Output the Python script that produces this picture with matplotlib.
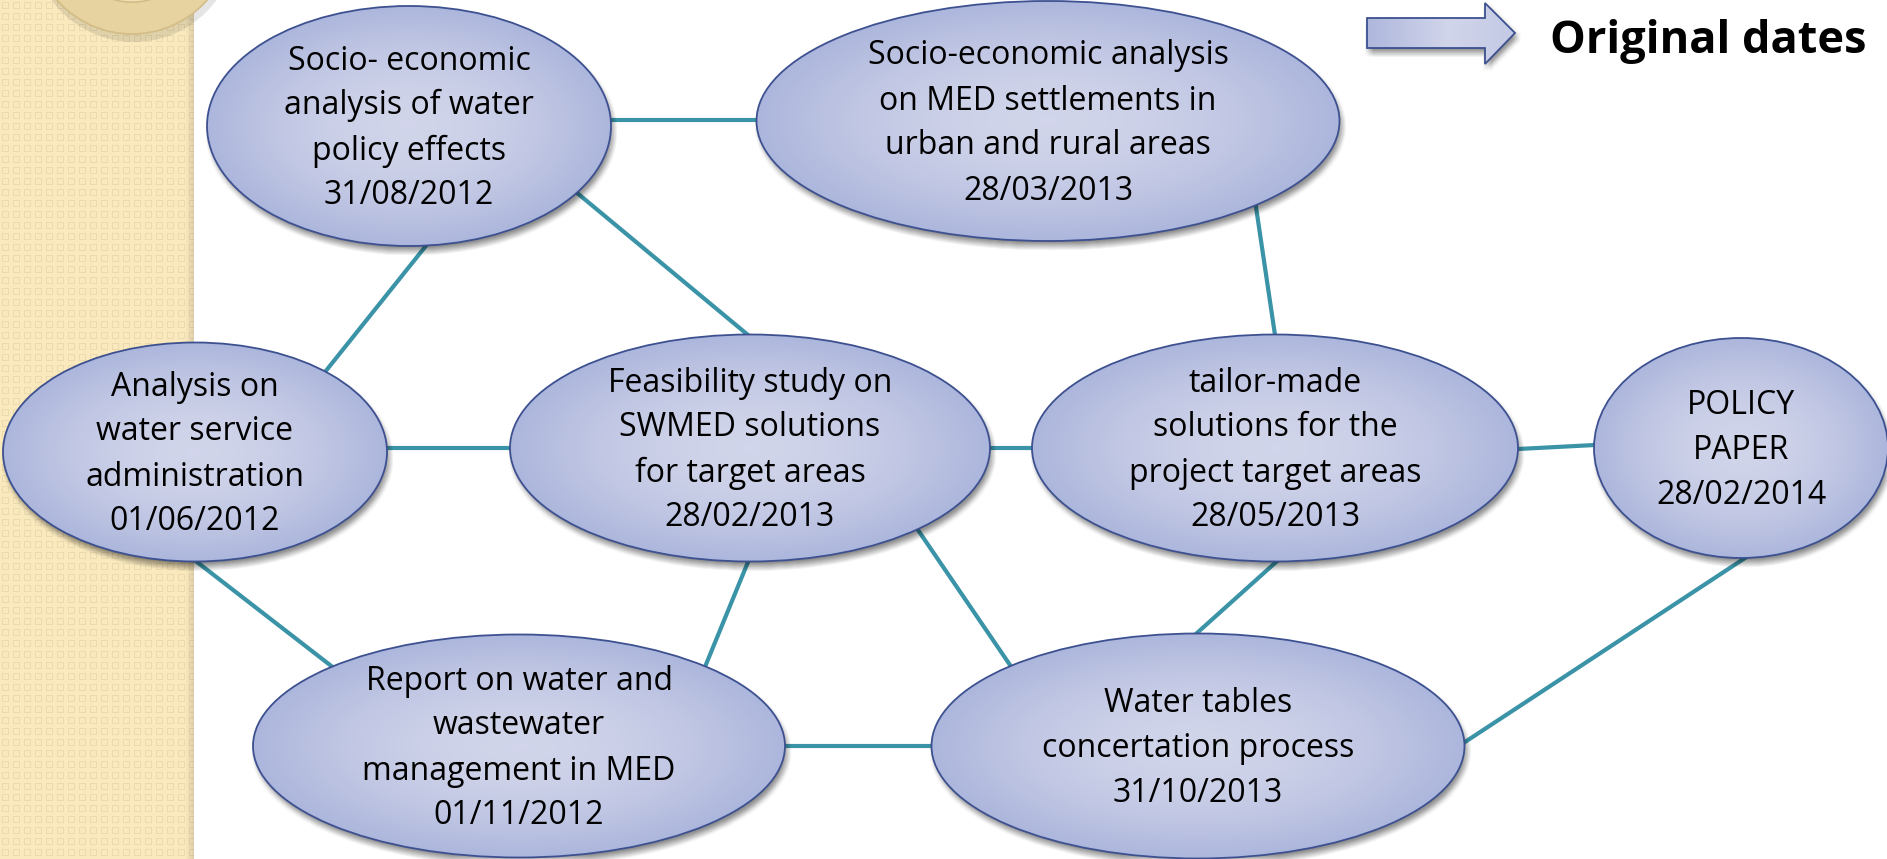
import numpy as np
import matplotlib
matplotlib.use("Agg")
from matplotlib import pyplot as plt
from matplotlib.patches import Ellipse, Polygon, Wedge, Rectangle
from matplotlib.path import Path

W, H = 1887, 859

# bubble texts
node_text = [
    "Socio- economic\nanalysis of water\npolicy effects\n31/08/2012",
    "Socio-economic analysis\non MED settlements in\nurban and rural areas\n28/03/2013",
    "Analysis on\nwater service\nadministration\n01/06/2012",
    "Feasibility study on\nSWMED solutions\nfor target areas\n28/02/2013",
    "tailor-made\nsolutions for the\nproject target areas\n28/05/2013",
    "POLICY\nPAPER\n28/02/2014",
    "Report on water and\nwastewater\nmanagement in MED\n01/11/2012",
    "Water tables\nconcertation process\n31/10/2013",
]
node_cx = [409, 1048, 195, 750, 1275, 1741, 519, 1198]
node_cy = [126, 121, 452, 448, 448, 448, 746, 746]
node_w = [404, 583, 384, 480, 486, 294, 532, 533]
node_h = [240, 240, 219, 227, 227, 220, 223, 225]

# connectors between bubbles (x0, y0, x1, y1), ends sit on the bubble rims
links = [
    (611, 120, 762, 120),
    (433, 237, 329, 367),
    (594, 207, 748, 335),
    (1256, 207, 1275, 335),
    (387, 448, 510, 448),
    (990, 448, 1032, 448),
    (1518, 449, 1595, 445),
    (197, 562, 330, 665),
    (748, 562, 707, 662),
    (918, 530, 1010, 665),
    (1275, 563, 1197, 633),
    (785, 746, 932, 746),
    (1742, 560, 1465, 742),
]

legend_label = "Original dates"
arrow_pts = [(1367, 18), (1485, 18), (1485, 3), (1515, 33),
             (1485, 64), (1485, 48), (1367, 48)]

FONT = "Open Sans"
LINE_COL = "#3a93a6"
EDGE_COL = "#3d5190"
C_IN = np.array([0.820, 0.835, 0.918])
C_OUT = np.array([0.675, 0.712, 0.862])


def blur(a, r):
    k = np.ones(2 * r + 1) / (2 * r + 1)
    a = np.apply_along_axis(lambda v: np.convolve(v, k, mode="same"), 0, a)
    a = np.apply_along_axis(lambda v: np.convolve(v, k, mode="same"), 1, a)
    return a


fig = plt.figure(figsize=(W / 100, H / 100), dpi=100)
ax = fig.add_axes([0, 0, 1, 1])
ax.set_xlim(0, W)
ax.set_ylim(H, 0)
ax.axis("off")

# left decorative strip
sw = 194
yy, xx = np.mgrid[0:H, 0:sw]
strip = np.ones((H, sw, 3)) * np.array([0.980, 0.914, 0.745])
px, py = xx % 11, yy % 11
motif = (((px == 2) | (px == 8)) & (py >= 2) & (py <= 8)) | (((py == 2) | (py == 8)) & (px >= 2) & (px <= 8))
strip[motif] = np.array([0.925, 0.855, 0.690])
shade = np.clip((xx - (sw - 9)) / 9.0, 0, 1)[..., None]
strip = strip * (1 - 0.12 * shade)
ax.imshow(strip, extent=(0, sw, H, 0), origin="upper", zorder=0, interpolation="nearest")
clip_rect = Rectangle((0, 0), sw, H, transform=ax.transData)
ring_sh = Wedge((134, -60), 102, 0, 360, width=34, facecolor="#000000", alpha=0.10,
                edgecolor="none", zorder=0.5)
ring_sh.set_clip_path(clip_rect)
ax.add_patch(ring_sh)
ring = Wedge((132, -66), 100, 0, 360, width=32, facecolor="#e6d3a0",
             edgecolor="#d3bc86", lw=1.2, zorder=0.6)
ring.set_clip_path(clip_rect)
ax.add_patch(ring)
inner = Wedge((132, -66), 68, 0, 360, facecolor="#efe0b6", edgecolor="#d3bc86",
              lw=1.0, zorder=0.6)
inner.set_clip_path(clip_rect)
ax.add_patch(inner)

# connectors, pushed under the bubbles so they meet the rims
for x0, y0, x1, y1 in links:
    d = np.hypot(x1 - x0, y1 - y0)
    ux, uy = (x1 - x0) / d * 40, (y1 - y0) / d * 40
    ax.plot([x0 - ux, x1 + ux], [y0 - uy, y1 + uy], color=LINE_COL, lw=3.0,
            solid_capstyle="butt", zorder=1)

# soft shadows
gy, gx = np.mgrid[0:H, 0:W]
mask = np.zeros((H, W))
for cx, cy, w, h in zip(node_cx, node_cy, node_w, node_h):
    m = ((gx - cx - 2) / (w / 2)) ** 2 + ((gy - cy - 5) / (h / 2)) ** 2 <= 1
    mask[m] = 1
arr_path = Path([(x + 2, y + 4) for x, y in arrow_pts] + [(arrow_pts[0][0] + 2, arrow_pts[0][1] + 4)])
sub = (gx > 1340) & (gx < 1540) & (gy < 90)
pts = np.column_stack([gx[sub], gy[sub]])
mask[sub] = np.maximum(mask[sub], arr_path.contains_points(pts).astype(float))
mask = blur(mask, 4)
shadow = np.zeros((H, W, 4))
shadow[..., 3] = mask * 0.45
ax.imshow(shadow, extent=(0, W, H, 0), origin="upper", zorder=2)

# bubbles
for txt, cx, cy, w, h in zip(node_text, node_cx, node_cy, node_w, node_h):
    x0, x1 = int(cx - w / 2) - 2, int(cx + w / 2) + 2
    y0, y1 = int(cy - h / 2) - 2, int(cy + h / 2) + 2
    ey, ex = np.mgrid[y0:y1, x0:x1] + 0.5
    r = np.sqrt(((ex - cx) / (w / 2)) ** 2 + ((ey - cy) / (h / 2)) ** 2)
    t = np.clip(r, 0, 1)[..., None] ** 1.8
    img = C_IN * (1 - t) + C_OUT * t
    e = Ellipse((cx, cy), w, h, facecolor="none", edgecolor=EDGE_COL, lw=1.3, zorder=4)
    ax.add_patch(e)
    im = ax.imshow(img, extent=(x0, x1, y1, y0), origin="upper", zorder=3)
    im.set_clip_path(e)
    lines = txt.split("\n")
    n = len(lines)
    for i, ln in enumerate(lines):
        by = cy + (i - (n - 1) / 2) * 45 + 11
        ax.text(cx, by, ln, ha="center", va="baseline", fontsize=23,
                family=FONT, color="black", zorder=5)

# legend arrow
xs = np.linspace(0, 1, 160)
grad = np.interp(xs, [0, 0.55, 1], [0, 1, 0.6])[:, None]
aimg = (C_OUT * (1 - grad) + C_IN * grad)[None, :, :] * np.ones((70, 1, 1))
apoly = Polygon(arrow_pts, closed=True, facecolor="none", edgecolor=EDGE_COL, lw=1.3, zorder=4)
ax.add_patch(apoly)
aim = ax.imshow(aimg, extent=(1362, 1520, 68, 0), origin="upper", zorder=3)
aim.set_clip_path(apoly)
ax.text(1550, 53, legend_label, ha="left", va="baseline", fontsize=32.5,
        fontweight="bold", family=FONT, color="black", zorder=5)

fig.savefig("out.png", dpi=100)
